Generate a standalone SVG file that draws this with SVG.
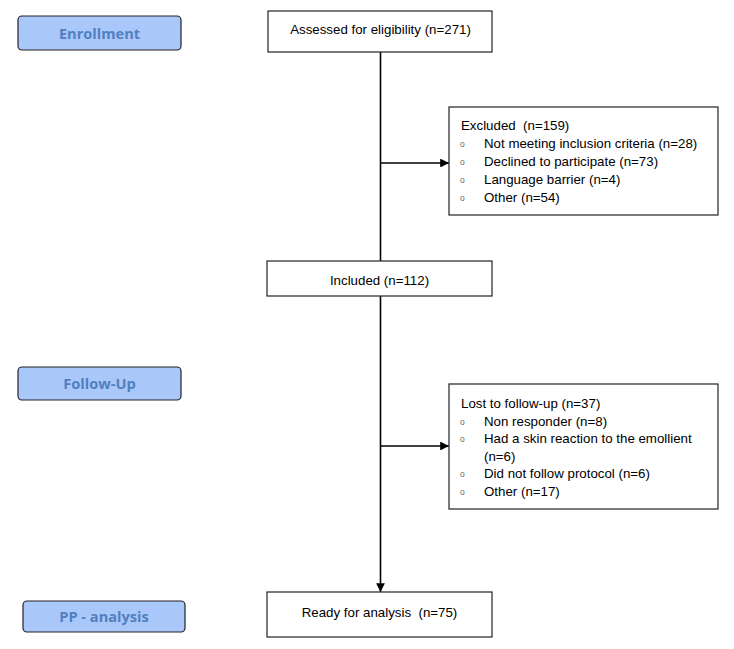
<svg xmlns="http://www.w3.org/2000/svg" width="734" height="649" viewBox="0 0 734 649">
<defs>
<marker id="arr" viewBox="0 0 10 10" refX="10" refY="5" markerWidth="5.5" markerHeight="5.5" orient="auto" markerUnits="strokeWidth">
<path d="M0,0 L10,5 L0,10 z" fill="#000"/>
</marker>
<style>
.box{fill:#fff;stroke:#333;stroke-width:1.3}
.lab{fill:#aac7fa;stroke:#222;stroke-width:1.2}
.lt{font-family:"Open Sans","Noto Sans",sans-serif;font-weight:bold;font-size:14.6px;fill:#5080bd;text-anchor:middle}
.t{font-family:"Liberation Sans",Arial,sans-serif;font-size:13.3px;fill:#000;white-space:pre}
.c{text-anchor:middle}
.b{font-family:"Liberation Sans",Arial,sans-serif;font-size:8.5px;fill:#666}
.ln{stroke:#000;stroke-width:1.6;fill:none}
</style>
</defs>
<rect width="734" height="649" fill="#fff"/>
<g id="label-enrollment">
<rect class="lab" x="18" y="16" width="163" height="34" rx="4"/>
<text class="lt" x="99.5" y="38.5">Enrollment</text>
</g>
<g id="label-followup">
<rect class="lab" x="18" y="367" width="163" height="33" rx="4"/>
<text class="lt" x="99.5" y="388.5">Follow-Up</text>
</g>
<g id="label-pp">
<rect class="lab" x="23" y="601" width="162" height="31" rx="4"/>
<text class="lt" x="104" y="622">PP - analysis</text>
</g>
<g id="connectors">
<line class="ln" x1="380.5" y1="52" x2="380.5" y2="261"/>
<line class="ln" x1="380.5" y1="163" x2="449" y2="163" marker-end="url(#arr)"/>
<line class="ln" x1="380.5" y1="296" x2="380.5" y2="592" marker-end="url(#arr)"/>
<line class="ln" x1="380.5" y1="446" x2="449" y2="446" marker-end="url(#arr)"/>
</g>
<g id="assessed">
<rect class="box" x="268" y="11" width="224" height="41"/>
<text class="t c" x="380.5" y="34">Assessed for eligibility (n=271)</text>
</g>
<g id="excluded">
<rect class="box" x="449" y="107" width="269" height="108"/>
<text class="t" x="461" y="130">Excluded  (n=159)</text>
<text class="b" x="460" y="147">o</text>
<text class="t" x="484" y="148">Not meeting inclusion criteria (n=28)</text>
<text class="b" x="460" y="165">o</text>
<text class="t" x="484" y="166">Declined to participate (n=73)</text>
<text class="b" x="460" y="183">o</text>
<text class="t" x="484" y="184">Language barrier (n=4)</text>
<text class="b" x="460" y="201">o</text>
<text class="t" x="484" y="202">Other (n=54)</text>
</g>
<g id="included">
<rect class="box" x="267" y="261" width="225" height="35"/>
<text class="t c" x="379.5" y="285">Included (n=112)</text>
</g>
<g id="lost">
<rect class="box" x="449" y="384" width="269" height="125"/>
<text class="t" x="461" y="408">Lost to follow-up (n=37)</text>
<text class="b" x="460" y="425">o</text>
<text class="t" x="484" y="426">Non responder (n=8)</text>
<text class="b" x="460" y="442">o</text>
<text class="t" x="484" y="443">Had a skin reaction to the emollient</text>
<text class="t" x="484" y="461">(n=6)</text>
<text class="b" x="460" y="477">o</text>
<text class="t" x="484" y="478">Did not follow protocol (n=6)</text>
<text class="b" x="460" y="495">o</text>
<text class="t" x="484" y="496">Other (n=17)</text>
</g>
<g id="ready">
<rect class="box" x="267" y="592" width="225" height="45"/>
<text class="t c" x="379.5" y="617">Ready for analysis  (n=75)</text>
</g>
</svg>
